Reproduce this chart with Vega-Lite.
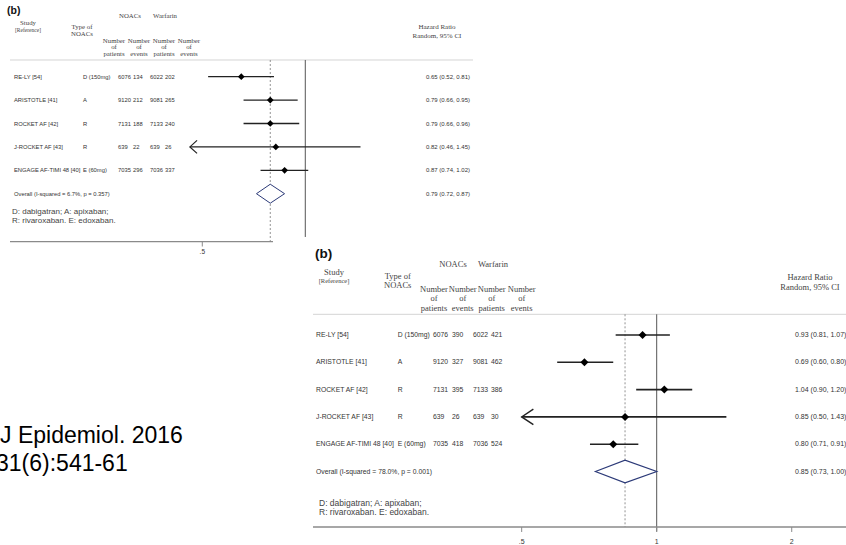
{
  "$schema": "https://vega.github.io/schema/vega-lite/v6.json",
  "width": 846,
  "height": 545,
  "autosize": "none",
  "padding": 0,
  "background": "white",
  "config": {"view": {"stroke": null}},
  "datasets": {
    "p1": [
      {"study": "RE-LY [54]", "type": "D (150mg)", "np": 6076, "ne": 134, "wp": 6022, "we": 202, "hr": 0.65, "lo": 0.52, "hi": 0.81, "ci": "0.65 (0.52, 0.81)", "order": 1, "kind": "study", "truncated": false},
      {"study": "ARISTOTLE [41]", "type": "A", "np": 9120, "ne": 212, "wp": 9081, "we": 265, "hr": 0.79, "lo": 0.66, "hi": 0.95, "ci": "0.79 (0.66, 0.95)", "order": 2, "kind": "study", "truncated": false},
      {"study": "ROCKET AF [42]", "type": "R", "np": 7131, "ne": 188, "wp": 7133, "we": 240, "hr": 0.79, "lo": 0.66, "hi": 0.96, "ci": "0.79 (0.66, 0.96)", "order": 3, "kind": "study", "truncated": false},
      {"study": "J-ROCKET AF [43]", "type": "R", "np": 639, "ne": 22, "wp": 639, "we": 26, "hr": 0.82, "lo": 0.46, "hi": 1.45, "ci": "0.82 (0.46, 1.45)", "order": 4, "kind": "study", "truncated": true},
      {"study": "ENGAGE AF-TIMI 48 [40]", "type": "E (60mg)", "np": 7035, "ne": 296, "wp": 7036, "we": 337, "hr": 0.87, "lo": 0.74, "hi": 1.02, "ci": "0.87 (0.74, 1.02)", "order": 5, "kind": "study", "truncated": false},
      {"study": "Overall  (I-squared = 6.7%, p = 0.357)", "hr": 0.79, "lo": 0.72, "hi": 0.87, "ci": "0.79 (0.72, 0.87)", "order": 6, "kind": "overall", "truncated": false}
    ],
    "p2": [
      {"study": "RE-LY [54]", "type": "D (150mg)", "np": 6076, "ne": 390, "wp": 6022, "we": 421, "hr": 0.93, "lo": 0.81, "hi": 1.07, "ci": "0.93 (0.81, 1.07)", "order": 1, "kind": "study", "truncated": false},
      {"study": "ARISTOTLE [41]", "type": "A", "np": 9120, "ne": 327, "wp": 9081, "we": 462, "hr": 0.69, "lo": 0.60, "hi": 0.80, "ci": "0.69 (0.60, 0.80)", "order": 2, "kind": "study", "truncated": false},
      {"study": "ROCKET AF [42]", "type": "R", "np": 7131, "ne": 395, "wp": 7133, "we": 386, "hr": 1.04, "lo": 0.90, "hi": 1.20, "ci": "1.04 (0.90, 1.20)", "order": 3, "kind": "study", "truncated": false},
      {"study": "J-ROCKET AF [43]", "type": "R", "np": 639, "ne": 26, "wp": 639, "we": 30, "hr": 0.85, "lo": 0.50, "hi": 1.43, "ci": "0.85 (0.50, 1.43)", "order": 4, "kind": "study", "truncated": true},
      {"study": "ENGAGE AF-TIMI 48 [40]", "type": "E (60mg)", "np": 7035, "ne": 418, "wp": 7036, "we": 524, "hr": 0.80, "lo": 0.71, "hi": 0.91, "ci": "0.80 (0.71, 0.91)", "order": 5, "kind": "study", "truncated": false},
      {"study": "Overall  (I-squared = 78.0%, p = 0.001)", "hr": 0.85, "lo": 0.73, "hi": 1.00, "ci": "0.85 (0.73, 1.00)", "order": 6, "kind": "overall", "truncated": false}
    ],
    "ticks2": [{"v": 0.5, "lab": ".5"}, {"v": 1, "lab": "1"}, {"v": 2, "lab": "2"}]
  },
  "layer": [
    {
      "layer": [
        {"data": {"values": [{}]}, "mark": {"type": "rule", "color": "#d4d4d4", "strokeWidth": 1},
         "encoding": {"x": {"datum": 0.13708, "type": "quantitative", "scale": {"type": "log", "domain": [0.12816, 38.04], "nice": false}, "axis": null}, "x2": {"datum": 3.0911},
                      "y": {"datum": 0.2863, "type": "quantitative", "scale": {"domain": [-2.2778, 21.0128], "reverse": true, "nice": false, "zero": false}, "axis": null}}},
        {"data": {"values": [{}]}, "mark": {"type": "rule", "color": "#555", "strokeWidth": 1},
         "encoding": {"x": {"datum": 1, "type": "quantitative", "scale": {"type": "log", "domain": [0.12816, 38.04], "nice": false}, "axis": null},
                      "y": {"datum": 0.2863, "type": "quantitative", "scale": {"domain": [-2.2778, 21.0128], "reverse": true, "nice": false, "zero": false}, "axis": null}, "y2": {"datum": 7.8504}}},
        {"data": {"name": "p1"}, "transform": [{"filter": {"field": "kind", "equal": "overall"}}], "mark": {"type": "rule", "color": "#777", "strokeWidth": 0.8, "strokeDash": [2, 2]},
         "encoding": {"x": {"field": "hr", "type": "quantitative", "scale": {"type": "log", "domain": [0.12816, 38.04], "nice": false}, "axis": null},
                      "y": {"datum": 0.2863, "type": "quantitative", "scale": {"domain": [-2.2778, 21.0128], "reverse": true, "nice": false, "zero": false}, "axis": null}, "y2": {"datum": 8.0641}}},
        {"data": {"values": [{}]}, "mark": {"type": "rule", "color": "#8a8a8a", "strokeWidth": 1.2},
         "encoding": {"x": {"datum": 0.13708, "type": "quantitative", "scale": {"type": "log", "domain": [0.12816, 38.04], "nice": false}, "axis": null}, "x2": {"datum": 0.80466},
                      "y": {"datum": 8.0513, "type": "quantitative", "scale": {"domain": [-2.2778, 21.0128], "reverse": true, "nice": false, "zero": false}, "axis": null}}},
        {"data": {"values": [{}]}, "mark": {"type": "rule", "color": "#8a8a8a", "strokeWidth": 1},
         "encoding": {"x": {"datum": 0.5, "type": "quantitative", "scale": {"type": "log", "domain": [0.12816, 38.04], "nice": false}, "axis": null},
                      "y": {"datum": 8.0513, "type": "quantitative", "scale": {"domain": [-2.2778, 21.0128], "reverse": true, "nice": false, "zero": false}, "axis": null}, "y2": {"datum": 8.2564}}},
        {"data": {"values": [{}]}, "mark": {"type": "text", "font": "Liberation Sans", "fontSize": 6.5, "color": "#333", "align": "center", "baseline": "middle"},
         "encoding": {"x": {"datum": 0.5, "type": "quantitative", "scale": {"type": "log", "domain": [0.12816, 38.04], "nice": false}, "axis": null},
                      "y": {"datum": 8.4701, "type": "quantitative", "scale": {"domain": [-2.2778, 21.0128], "reverse": true, "nice": false, "zero": false}, "axis": null}, "text": {"value": ".5"}}},
        {"data": {"name": "p1"}, "transform": [{"filter": {"field": "kind", "equal": "study"}}], "mark": {"type": "rule", "color": "#222", "strokeWidth": 1.3},
         "encoding": {"x": {"field": "lo", "type": "quantitative", "scale": {"type": "log", "domain": [0.12816, 38.04], "nice": false}, "axis": null}, "x2": {"field": "hi"},
                      "y": {"field": "order", "type": "quantitative", "scale": {"domain": [-2.2778, 21.0128], "reverse": true, "nice": false, "zero": false}, "axis": null}}},
        {"data": {"name": "p1"}, "transform": [{"filter": {"field": "kind", "equal": "study"}}], "mark": {"type": "point", "shape": "diamond", "filled": true, "color": "#000", "opacity": 1, "size": 45},
         "encoding": {"x": {"field": "hr", "type": "quantitative", "scale": {"type": "log", "domain": [0.12816, 38.04], "nice": false}, "axis": null},
                      "y": {"field": "order", "type": "quantitative", "scale": {"domain": [-2.2778, 21.0128], "reverse": true, "nice": false, "zero": false}, "axis": null}}},
        {"data": {"name": "p1"}, "transform": [{"filter": {"field": "truncated", "equal": true}}], "mark": {"type": "point", "shape": "M1.1,-1L0,0L1.1,1", "filled": false, "color": "#222", "strokeWidth": 1.2, "opacity": 1, "size": 169},
         "encoding": {"x": {"field": "lo", "type": "quantitative", "scale": {"type": "log", "domain": [0.12816, 38.04], "nice": false}, "axis": null},
                      "y": {"field": "order", "type": "quantitative", "scale": {"domain": [-2.2778, 21.0128], "reverse": true, "nice": false, "zero": false}, "axis": null}}},
        {"data": {"name": "p1"}, "transform": [{"filter": {"field": "kind", "equal": "overall"}}], "mark": {"type": "point", "shape": "M-0.965,0L0,-0.664L1,0L0,0.664Z", "filled": true, "fill": "white", "stroke": "#2c3a78", "strokeWidth": 1, "opacity": 1, "size": 818},
         "encoding": {"x": {"field": "hr", "type": "quantitative", "scale": {"type": "log", "domain": [0.12816, 38.04], "nice": false}, "axis": null},
                      "y": {"field": "order", "type": "quantitative", "scale": {"domain": [-2.2778, 21.0128], "reverse": true, "nice": false, "zero": false}, "axis": null}}},
        {"data": {"name": "p1"}, "mark": {"type": "text", "font": "Liberation Sans", "fontSize": 5.8, "color": "#333", "align": "left", "baseline": "middle"},
         "encoding": {"x": {"datum": 0.14082, "type": "quantitative", "scale": {"type": "log", "domain": [0.12816, 38.04], "nice": false}, "axis": null},
                      "y": {"field": "order", "type": "quantitative", "scale": {"domain": [-2.2778, 21.0128], "reverse": true, "nice": false, "zero": false}, "axis": null}, "text": {"field": "study"}}},
        {"data": {"name": "p1"}, "transform": [{"filter": {"field": "kind", "equal": "study"}}], "mark": {"type": "text", "font": "Liberation Sans", "fontSize": 5.8, "color": "#333", "align": "left", "baseline": "middle"},
         "encoding": {"x": {"datum": 0.22403, "type": "quantitative", "scale": {"type": "log", "domain": [0.12816, 38.04], "nice": false}, "axis": null},
                      "y": {"field": "order", "type": "quantitative", "scale": {"domain": [-2.2778, 21.0128], "reverse": true, "nice": false, "zero": false}, "axis": null}, "text": {"field": "type"}}},
        {"data": {"name": "p1"}, "transform": [{"filter": {"field": "kind", "equal": "study"}}], "mark": {"type": "text", "font": "Liberation Sans", "fontSize": 5.8, "color": "#333", "align": "left", "baseline": "middle"},
         "encoding": {"x": {"datum": 0.28353, "type": "quantitative", "scale": {"type": "log", "domain": [0.12816, 38.04], "nice": false}, "axis": null},
                      "y": {"field": "order", "type": "quantitative", "scale": {"domain": [-2.2778, 21.0128], "reverse": true, "nice": false, "zero": false}, "axis": null}, "text": {"field": "np", "type": "quantitative", "format": "d"}}},
        {"data": {"name": "p1"}, "transform": [{"filter": {"field": "kind", "equal": "study"}}], "mark": {"type": "text", "font": "Liberation Sans", "fontSize": 5.8, "color": "#333", "align": "left", "baseline": "middle"},
         "encoding": {"x": {"datum": 0.31365, "type": "quantitative", "scale": {"type": "log", "domain": [0.12816, 38.04], "nice": false}, "axis": null},
                      "y": {"field": "order", "type": "quantitative", "scale": {"domain": [-2.2778, 21.0128], "reverse": true, "nice": false, "zero": false}, "axis": null}, "text": {"field": "ne", "type": "quantitative", "format": "d"}}},
        {"data": {"name": "p1"}, "transform": [{"filter": {"field": "kind", "equal": "study"}}], "mark": {"type": "text", "font": "Liberation Sans", "fontSize": 5.8, "color": "#333", "align": "left", "baseline": "middle"},
         "encoding": {"x": {"datum": 0.35166, "type": "quantitative", "scale": {"type": "log", "domain": [0.12816, 38.04], "nice": false}, "axis": null},
                      "y": {"field": "order", "type": "quantitative", "scale": {"domain": [-2.2778, 21.0128], "reverse": true, "nice": false, "zero": false}, "axis": null}, "text": {"field": "wp", "type": "quantitative", "format": "d"}}},
        {"data": {"name": "p1"}, "transform": [{"filter": {"field": "kind", "equal": "study"}}], "mark": {"type": "text", "font": "Liberation Sans", "fontSize": 5.8, "color": "#333", "align": "left", "baseline": "middle"},
         "encoding": {"x": {"datum": 0.38901, "type": "quantitative", "scale": {"type": "log", "domain": [0.12816, 38.04], "nice": false}, "axis": null},
                      "y": {"field": "order", "type": "quantitative", "scale": {"domain": [-2.2778, 21.0128], "reverse": true, "nice": false, "zero": false}, "axis": null}, "text": {"field": "we", "type": "quantitative", "format": "d"}}},
        {"data": {"name": "p1"}, "mark": {"type": "text", "font": "Liberation Sans", "fontSize": 6, "color": "#333", "align": "left", "baseline": "middle"},
         "encoding": {"x": {"datum": 2.253, "type": "quantitative", "scale": {"type": "log", "domain": [0.12816, 38.04], "nice": false}, "axis": null},
                      "y": {"field": "order", "type": "quantitative", "scale": {"domain": [-2.2778, 21.0128], "reverse": true, "nice": false, "zero": false}, "axis": null}, "text": {"field": "ci"}}},
        {"data": {"values": [{}]}, "mark": {"type": "text", "font": "Liberation Sans", "fontWeight": "bold", "fontSize": 10.5, "color": "#111", "align": "left", "baseline": "middle"},
         "encoding": {"x": {"datum": 0.13434, "type": "quantitative", "scale": {"type": "log", "domain": [0.12816, 38.04], "nice": false}, "axis": null},
                      "y": {"datum": -1.8077, "type": "quantitative", "scale": {"domain": [-2.2778, 21.0128], "reverse": true, "nice": false, "zero": false}, "axis": null}, "text": {"value": "(b)"}}},
        {"data": {"values": [{}]}, "mark": {"type": "text", "font": "Liberation Serif", "fontSize": 6.8, "color": "#444", "align": "center", "baseline": "middle"},
         "encoding": {"x": {"datum": 0.30738, "type": "quantitative", "scale": {"type": "log", "domain": [0.12816, 38.04], "nice": false}, "axis": null},
                      "y": {"datum": -1.594, "type": "quantitative", "scale": {"domain": [-2.2778, 21.0128], "reverse": true, "nice": false, "zero": false}, "axis": null}, "text": {"value": "NOACs"}}},
        {"data": {"values": [{}]}, "mark": {"type": "text", "font": "Liberation Serif", "fontSize": 6.8, "color": "#444", "align": "center", "baseline": "middle"},
         "encoding": {"x": {"datum": 0.38901, "type": "quantitative", "scale": {"type": "log", "domain": [0.12816, 38.04], "nice": false}, "axis": null},
                      "y": {"datum": -1.594, "type": "quantitative", "scale": {"domain": [-2.2778, 21.0128], "reverse": true, "nice": false, "zero": false}, "axis": null}, "text": {"value": "Warfarin"}}},
        {"data": {"values": [{}]}, "mark": {"type": "text", "font": "Liberation Serif", "fontSize": 6.8, "color": "#444", "align": "center", "baseline": "middle"},
         "encoding": {"x": {"datum": 0.15473, "type": "quantitative", "scale": {"type": "log", "domain": [0.12816, 38.04], "nice": false}, "axis": null},
                      "y": {"datum": -1.2949, "type": "quantitative", "scale": {"domain": [-2.2778, 21.0128], "reverse": true, "nice": false, "zero": false}, "axis": null}, "text": {"value": "Study"}}},
        {"data": {"values": [{}]}, "mark": {"type": "text", "font": "Liberation Serif", "fontSize": 5.5, "color": "#444", "align": "center", "baseline": "middle"},
         "encoding": {"x": {"datum": 0.15473, "type": "quantitative", "scale": {"type": "log", "domain": [0.12816, 38.04], "nice": false}, "axis": null},
                      "y": {"datum": -0.9957, "type": "quantitative", "scale": {"domain": [-2.2778, 21.0128], "reverse": true, "nice": false, "zero": false}, "axis": null}, "text": {"value": "[Reference]"}}},
        {"data": {"values": [{}]}, "mark": {"type": "text", "font": "Liberation Serif", "fontSize": 6.8, "lineHeight": 7, "color": "#444", "align": "center", "baseline": "middle"},
         "encoding": {"x": {"datum": 0.22253, "type": "quantitative", "scale": {"type": "log", "domain": [0.12816, 38.04], "nice": false}, "axis": null},
                      "y": {"datum": -1.1026, "type": "quantitative", "scale": {"domain": [-2.2778, 21.0128], "reverse": true, "nice": false, "zero": false}, "axis": null}, "text": {"value": ["Type of", "NOACs"]}}},
        {"data": {"values": [{}]}, "mark": {"type": "text", "font": "Liberation Serif", "fontSize": 6.8, "lineHeight": 6.6, "color": "#444", "align": "center", "baseline": "middle"},
         "encoding": {"x": {"datum": 0.276, "type": "quantitative", "scale": {"type": "log", "domain": [0.12816, 38.04], "nice": false}, "axis": null},
                      "y": {"datum": -0.547, "type": "quantitative", "scale": {"domain": [-2.2778, 21.0128], "reverse": true, "nice": false, "zero": false}, "axis": null}, "text": {"value": ["Number", "of", "patients"]}}},
        {"data": {"values": [{}]}, "mark": {"type": "text", "font": "Liberation Serif", "fontSize": 6.8, "lineHeight": 6.6, "color": "#444", "align": "center", "baseline": "middle"},
         "encoding": {"x": {"datum": 0.32657, "type": "quantitative", "scale": {"type": "log", "domain": [0.12816, 38.04], "nice": false}, "axis": null},
                      "y": {"datum": -0.547, "type": "quantitative", "scale": {"domain": [-2.2778, 21.0128], "reverse": true, "nice": false, "zero": false}, "axis": null}, "text": {"value": ["Number", "of", "events"]}}},
        {"data": {"values": [{}]}, "mark": {"type": "text", "font": "Liberation Serif", "fontSize": 6.8, "lineHeight": 6.6, "color": "#444", "align": "center", "baseline": "middle"},
         "encoding": {"x": {"datum": 0.3864, "type": "quantitative", "scale": {"type": "log", "domain": [0.12816, 38.04], "nice": false}, "axis": null},
                      "y": {"datum": -0.547, "type": "quantitative", "scale": {"domain": [-2.2778, 21.0128], "reverse": true, "nice": false, "zero": false}, "axis": null}, "text": {"value": ["Number", "of", "patients"]}}},
        {"data": {"values": [{}]}, "mark": {"type": "text", "font": "Liberation Serif", "fontSize": 6.8, "lineHeight": 6.6, "color": "#444", "align": "center", "baseline": "middle"},
         "encoding": {"x": {"datum": 0.4572, "type": "quantitative", "scale": {"type": "log", "domain": [0.12816, 38.04], "nice": false}, "axis": null},
                      "y": {"datum": -0.547, "type": "quantitative", "scale": {"domain": [-2.2778, 21.0128], "reverse": true, "nice": false, "zero": false}, "axis": null}, "text": {"value": ["Number", "of", "events"]}}},
        {"data": {"values": [{}]}, "mark": {"type": "text", "font": "Liberation Serif", "fontSize": 7, "lineHeight": 9, "color": "#444", "align": "center", "baseline": "middle"},
         "encoding": {"x": {"datum": 2.42607, "type": "quantitative", "scale": {"type": "log", "domain": [0.12816, 38.04], "nice": false}, "axis": null},
                      "y": {"datum": -1.1026, "type": "quantitative", "scale": {"domain": [-2.2778, 21.0128], "reverse": true, "nice": false, "zero": false}, "axis": null}, "text": {"value": ["Hazard Ratio", "Random, 95% CI"]}}},
        {"data": {"values": [{}]}, "mark": {"type": "text", "font": "Liberation Sans", "fontSize": 8, "lineHeight": 9.4, "color": "#444", "align": "left", "baseline": "middle"},
         "encoding": {"x": {"datum": 0.13893, "type": "quantitative", "scale": {"type": "log", "domain": [0.12816, 38.04], "nice": false}, "axis": null},
                      "y": {"datum": 6.7821, "type": "quantitative", "scale": {"domain": [-2.2778, 21.0128], "reverse": true, "nice": false, "zero": false}, "axis": null}, "text": {"value": ["D: dabigatran; A: apixaban;", "R: rivaroxaban. E: edoxaban."]}}}
      ]
    },
    {
      "layer": [
        {"data": {"values": [{}]}, "mark": {"type": "rule", "color": "#d4d4d4", "strokeWidth": 1},
         "encoding": {"x": {"datum": 0.17129, "type": "quantitative", "scale": {"type": "log", "domain": [0.03435, 2.64261], "nice": false}, "axis": null}, "x2": {"datum": 2.64261},
                      "y": {"datum": 0.2418, "type": "quantitative", "scale": {"domain": [-11.2711, 8.6923], "reverse": true, "nice": false, "zero": false}, "axis": null}}},
        {"data": {"values": [{}]}, "mark": {"type": "rule", "color": "#555", "strokeWidth": 1},
         "encoding": {"x": {"datum": 1, "type": "quantitative", "scale": {"type": "log", "domain": [0.03435, 2.64261], "nice": false}, "axis": null},
                      "y": {"datum": 0.2418, "type": "quantitative", "scale": {"domain": [-11.2711, 8.6923], "reverse": true, "nice": false, "zero": false}, "axis": null}, "y2": {"datum": 8.1978}}},
        {"data": {"name": "p2"}, "transform": [{"filter": {"field": "kind", "equal": "overall"}}], "mark": {"type": "rule", "color": "#777", "strokeWidth": 0.8, "strokeDash": [2, 2]},
         "encoding": {"x": {"field": "hr", "type": "quantitative", "scale": {"type": "log", "domain": [0.03435, 2.64261], "nice": false}, "axis": null},
                      "y": {"datum": 0.2418, "type": "quantitative", "scale": {"domain": [-11.2711, 8.6923], "reverse": true, "nice": false, "zero": false}, "axis": null}, "y2": {"datum": 8.033}}},
        {"data": {"values": [{}]}, "mark": {"type": "rule", "color": "#8a8a8a", "strokeWidth": 1.3},
         "encoding": {"x": {"datum": 0.17129, "type": "quantitative", "scale": {"type": "log", "domain": [0.03435, 2.64261], "nice": false}, "axis": null}, "x2": {"datum": 2.64261},
                      "y": {"datum": 8.033, "type": "quantitative", "scale": {"domain": [-11.2711, 8.6923], "reverse": true, "nice": false, "zero": false}, "axis": null}}},
        {"data": {"name": "ticks2"}, "mark": {"type": "rule", "color": "#8a8a8a", "strokeWidth": 1},
         "encoding": {"x": {"field": "v", "type": "quantitative", "scale": {"type": "log", "domain": [0.03435, 2.64261], "nice": false}, "axis": null},
                      "y": {"datum": 8.033, "type": "quantitative", "scale": {"domain": [-11.2711, 8.6923], "reverse": true, "nice": false, "zero": false}, "axis": null}, "y2": {"datum": 8.2161}}},
        {"data": {"name": "ticks2"}, "mark": {"type": "text", "font": "Liberation Sans", "fontSize": 7, "color": "#333", "align": "center", "baseline": "middle"},
         "encoding": {"x": {"field": "v", "type": "quantitative", "scale": {"type": "log", "domain": [0.03435, 2.64261], "nice": false}, "axis": null},
                      "y": {"datum": 8.5641, "type": "quantitative", "scale": {"domain": [-11.2711, 8.6923], "reverse": true, "nice": false, "zero": false}, "axis": null}, "text": {"field": "lab"}}},
        {"data": {"name": "p2"}, "transform": [{"filter": {"field": "kind", "equal": "study"}}], "mark": {"type": "rule", "color": "#222", "strokeWidth": 1.6},
         "encoding": {"x": {"field": "lo", "type": "quantitative", "scale": {"type": "log", "domain": [0.03435, 2.64261], "nice": false}, "axis": null}, "x2": {"field": "hi"},
                      "y": {"field": "order", "type": "quantitative", "scale": {"domain": [-11.2711, 8.6923], "reverse": true, "nice": false, "zero": false}, "axis": null}}},
        {"data": {"name": "p2"}, "transform": [{"filter": {"field": "kind", "equal": "study"}}], "mark": {"type": "point", "shape": "diamond", "filled": true, "color": "#000", "opacity": 1, "size": 64},
         "encoding": {"x": {"field": "hr", "type": "quantitative", "scale": {"type": "log", "domain": [0.03435, 2.64261], "nice": false}, "axis": null},
                      "y": {"field": "order", "type": "quantitative", "scale": {"domain": [-11.2711, 8.6923], "reverse": true, "nice": false, "zero": false}, "axis": null}}},
        {"data": {"name": "p2"}, "transform": [{"filter": {"field": "truncated", "equal": true}}], "mark": {"type": "point", "shape": "M1.5,-1L0,0L1.5,1", "filled": false, "color": "#222", "strokeWidth": 1.4, "opacity": 1, "size": 243},
         "encoding": {"x": {"field": "lo", "type": "quantitative", "scale": {"type": "log", "domain": [0.03435, 2.64261], "nice": false}, "axis": null},
                      "y": {"field": "order", "type": "quantitative", "scale": {"domain": [-11.2711, 8.6923], "reverse": true, "nice": false, "zero": false}, "axis": null}}},
        {"data": {"name": "p2"}, "transform": [{"filter": {"field": "kind", "equal": "overall"}}], "mark": {"type": "point", "shape": "M-0.934,0L0,-0.356L1,0L0,0.356Z", "filled": true, "fill": "white", "stroke": "#2c3a78", "strokeWidth": 1.2, "opacity": 1, "size": 4020},
         "encoding": {"x": {"field": "hr", "type": "quantitative", "scale": {"type": "log", "domain": [0.03435, 2.64261], "nice": false}, "axis": null},
                      "y": {"field": "order", "type": "quantitative", "scale": {"domain": [-11.2711, 8.6923], "reverse": true, "nice": false, "zero": false}, "axis": null}}},
        {"data": {"name": "p2"}, "mark": {"type": "text", "font": "Liberation Sans", "fontSize": 6.8, "color": "#333", "align": "left", "baseline": "middle"},
         "encoding": {"x": {"datum": 0.17395, "type": "quantitative", "scale": {"type": "log", "domain": [0.03435, 2.64261], "nice": false}, "axis": null},
                      "y": {"field": "order", "type": "quantitative", "scale": {"domain": [-11.2711, 8.6923], "reverse": true, "nice": false, "zero": false}, "axis": null}, "text": {"field": "study"}}},
        {"data": {"name": "p2"}, "transform": [{"filter": {"field": "kind", "equal": "study"}}], "mark": {"type": "text", "font": "Liberation Sans", "fontSize": 6.8, "color": "#333", "align": "left", "baseline": "middle"},
         "encoding": {"x": {"datum": 0.26459, "type": "quantitative", "scale": {"type": "log", "domain": [0.03435, 2.64261], "nice": false}, "axis": null},
                      "y": {"field": "order", "type": "quantitative", "scale": {"domain": [-11.2711, 8.6923], "reverse": true, "nice": false, "zero": false}, "axis": null}, "text": {"field": "type"}}},
        {"data": {"name": "p2"}, "transform": [{"filter": {"field": "kind", "equal": "study"}}], "mark": {"type": "text", "font": "Liberation Sans", "fontSize": 6.8, "color": "#333", "align": "left", "baseline": "middle"},
         "encoding": {"x": {"datum": 0.31716, "type": "quantitative", "scale": {"type": "log", "domain": [0.03435, 2.64261], "nice": false}, "axis": null},
                      "y": {"field": "order", "type": "quantitative", "scale": {"domain": [-11.2711, 8.6923], "reverse": true, "nice": false, "zero": false}, "axis": null}, "text": {"field": "np", "type": "quantitative", "format": "d"}}},
        {"data": {"name": "p2"}, "transform": [{"filter": {"field": "kind", "equal": "study"}}], "mark": {"type": "text", "font": "Liberation Sans", "fontSize": 6.8, "color": "#333", "align": "left", "baseline": "middle"},
         "encoding": {"x": {"datum": 0.34965, "type": "quantitative", "scale": {"type": "log", "domain": [0.03435, 2.64261], "nice": false}, "axis": null},
                      "y": {"field": "order", "type": "quantitative", "scale": {"domain": [-11.2711, 8.6923], "reverse": true, "nice": false, "zero": false}, "axis": null}, "text": {"field": "ne", "type": "quantitative", "format": "d"}}},
        {"data": {"name": "p2"}, "transform": [{"filter": {"field": "kind", "equal": "study"}}], "mark": {"type": "text", "font": "Liberation Sans", "fontSize": 6.8, "color": "#333", "align": "left", "baseline": "middle"},
         "encoding": {"x": {"datum": 0.38945, "type": "quantitative", "scale": {"type": "log", "domain": [0.03435, 2.64261], "nice": false}, "axis": null},
                      "y": {"field": "order", "type": "quantitative", "scale": {"domain": [-11.2711, 8.6923], "reverse": true, "nice": false, "zero": false}, "axis": null}, "text": {"field": "wp", "type": "quantitative", "format": "d"}}},
        {"data": {"name": "p2"}, "transform": [{"filter": {"field": "kind", "equal": "study"}}], "mark": {"type": "text", "font": "Liberation Sans", "fontSize": 6.8, "color": "#333", "align": "left", "baseline": "middle"},
         "encoding": {"x": {"datum": 0.42715, "type": "quantitative", "scale": {"type": "log", "domain": [0.03435, 2.64261], "nice": false}, "axis": null},
                      "y": {"field": "order", "type": "quantitative", "scale": {"domain": [-11.2711, 8.6923], "reverse": true, "nice": false, "zero": false}, "axis": null}, "text": {"field": "we", "type": "quantitative", "format": "d"}}},
        {"data": {"name": "p2"}, "mark": {"type": "text", "font": "Liberation Sans", "fontSize": 7, "color": "#333", "align": "left", "baseline": "middle"},
         "encoding": {"x": {"datum": 2.03391, "type": "quantitative", "scale": {"type": "log", "domain": [0.03435, 2.64261], "nice": false}, "axis": null},
                      "y": {"field": "order", "type": "quantitative", "scale": {"domain": [-11.2711, 8.6923], "reverse": true, "nice": false, "zero": false}, "axis": null}, "text": {"field": "ci"}}},
        {"data": {"values": [{}]}, "mark": {"type": "text", "font": "Liberation Sans", "fontWeight": "bold", "fontSize": 13.5, "color": "#111", "align": "left", "baseline": "middle"},
         "encoding": {"x": {"datum": 0.17306, "type": "quantitative", "scale": {"type": "log", "domain": [0.03435, 2.64261], "nice": false}, "axis": null},
                      "y": {"datum": -1.967, "type": "quantitative", "scale": {"domain": [-11.2711, 8.6923], "reverse": true, "nice": false, "zero": false}, "axis": null}, "text": {"value": "(b)"}}},
        {"data": {"values": [{}]}, "mark": {"type": "text", "font": "Liberation Serif", "fontSize": 8.5, "color": "#444", "align": "center", "baseline": "middle"},
         "encoding": {"x": {"datum": 0.35145, "type": "quantitative", "scale": {"type": "log", "domain": [0.03435, 2.64261], "nice": false}, "axis": null},
                      "y": {"datum": -1.6007, "type": "quantitative", "scale": {"domain": [-11.2711, 8.6923], "reverse": true, "nice": false, "zero": false}, "axis": null}, "text": {"value": "NOACs"}}},
        {"data": {"values": [{}]}, "mark": {"type": "text", "font": "Liberation Serif", "fontSize": 8.5, "color": "#444", "align": "center", "baseline": "middle"},
         "encoding": {"x": {"datum": 0.43156, "type": "quantitative", "scale": {"type": "log", "domain": [0.03435, 2.64261], "nice": false}, "axis": null},
                      "y": {"datum": -1.6007, "type": "quantitative", "scale": {"domain": [-11.2711, 8.6923], "reverse": true, "nice": false, "zero": false}, "axis": null}, "text": {"value": "Warfarin"}}},
        {"data": {"values": [{}]}, "mark": {"type": "text", "font": "Liberation Serif", "fontSize": 8.5, "color": "#444", "align": "center", "baseline": "middle"},
         "encoding": {"x": {"datum": 0.19079, "type": "quantitative", "scale": {"type": "log", "domain": [0.03435, 2.64261], "nice": false}, "axis": null},
                      "y": {"datum": -1.2967, "type": "quantitative", "scale": {"domain": [-11.2711, 8.6923], "reverse": true, "nice": false, "zero": false}, "axis": null}, "text": {"value": "Study"}}},
        {"data": {"values": [{}]}, "mark": {"type": "text", "font": "Liberation Serif", "fontSize": 6.5, "color": "#444", "align": "center", "baseline": "middle"},
         "encoding": {"x": {"datum": 0.19079, "type": "quantitative", "scale": {"type": "log", "domain": [0.03435, 2.64261], "nice": false}, "axis": null},
                      "y": {"datum": -0.9963, "type": "quantitative", "scale": {"domain": [-11.2711, 8.6923], "reverse": true, "nice": false, "zero": false}, "axis": null}, "text": {"value": "[Reference]"}}},
        {"data": {"values": [{}]}, "mark": {"type": "text", "font": "Liberation Serif", "fontSize": 8.5, "lineHeight": 8.8, "color": "#444", "align": "center", "baseline": "middle"},
         "encoding": {"x": {"datum": 0.26459, "type": "quantitative", "scale": {"type": "log", "domain": [0.03435, 2.64261], "nice": false}, "axis": null},
                      "y": {"datum": -1.1429, "type": "quantitative", "scale": {"domain": [-11.2711, 8.6923], "reverse": true, "nice": false, "zero": false}, "axis": null}, "text": {"value": ["Type of", "NOACs"]}}},
        {"data": {"values": [{}]}, "mark": {"type": "text", "font": "Liberation Serif", "fontSize": 8.5, "lineHeight": 9.6, "color": "#444", "align": "center", "baseline": "middle"},
         "encoding": {"x": {"datum": 0.31879, "type": "quantitative", "scale": {"type": "log", "domain": [0.03435, 2.64261], "nice": false}, "axis": null},
                      "y": {"datum": -0.7033, "type": "quantitative", "scale": {"domain": [-11.2711, 8.6923], "reverse": true, "nice": false, "zero": false}, "axis": null}, "text": {"value": ["Number", "of", "patients"]}}},
        {"data": {"values": [{}]}, "mark": {"type": "text", "font": "Liberation Serif", "fontSize": 8.5, "lineHeight": 9.6, "color": "#444", "align": "center", "baseline": "middle"},
         "encoding": {"x": {"datum": 0.36939, "type": "quantitative", "scale": {"type": "log", "domain": [0.03435, 2.64261], "nice": false}, "axis": null},
                      "y": {"datum": -0.7033, "type": "quantitative", "scale": {"domain": [-11.2711, 8.6923], "reverse": true, "nice": false, "zero": false}, "axis": null}, "text": {"value": ["Number", "of", "events"]}}},
        {"data": {"values": [{}]}, "mark": {"type": "text", "font": "Liberation Serif", "fontSize": 8.5, "lineHeight": 9.6, "color": "#444", "align": "center", "baseline": "middle"},
         "encoding": {"x": {"datum": 0.42869, "type": "quantitative", "scale": {"type": "log", "domain": [0.03435, 2.64261], "nice": false}, "axis": null},
                      "y": {"datum": -0.7033, "type": "quantitative", "scale": {"domain": [-11.2711, 8.6923], "reverse": true, "nice": false, "zero": false}, "axis": null}, "text": {"value": ["Number", "of", "patients"]}}},
        {"data": {"values": [{}]}, "mark": {"type": "text", "font": "Liberation Serif", "fontSize": 8.5, "lineHeight": 9.6, "color": "#444", "align": "center", "baseline": "middle"},
         "encoding": {"x": {"datum": 0.5, "type": "quantitative", "scale": {"type": "log", "domain": [0.03435, 2.64261], "nice": false}, "axis": null},
                      "y": {"datum": -0.7033, "type": "quantitative", "scale": {"domain": [-11.2711, 8.6923], "reverse": true, "nice": false, "zero": false}, "axis": null}, "text": {"value": ["Number", "of", "events"]}}},
        {"data": {"values": [{}]}, "mark": {"type": "text", "font": "Liberation Serif", "fontSize": 8.5, "lineHeight": 10, "color": "#444", "align": "center", "baseline": "middle"},
         "encoding": {"x": {"datum": 2.1967, "type": "quantitative", "scale": {"type": "log", "domain": [0.03435, 2.64261], "nice": false}, "axis": null},
                      "y": {"datum": -1.1355, "type": "quantitative", "scale": {"domain": [-11.2711, 8.6923], "reverse": true, "nice": false, "zero": false}, "axis": null}, "text": {"value": ["Hazard Ratio", "Random, 95% CI"]}}},
        {"data": {"values": [{}]}, "mark": {"type": "text", "font": "Liberation Sans", "fontSize": 8.5, "lineHeight": 9.5, "color": "#444", "align": "left", "baseline": "middle"},
         "encoding": {"x": {"datum": 0.17665, "type": "quantitative", "scale": {"type": "log", "domain": [0.03435, 2.64261], "nice": false}, "axis": null},
                      "y": {"datum": 7.1538, "type": "quantitative", "scale": {"domain": [-11.2711, 8.6923], "reverse": true, "nice": false, "zero": false}, "axis": null}, "text": {"value": ["D: dabigatran; A: apixaban;", "R: rivaroxaban. E: edoxaban."]}}},
        {"data": {"values": [{}]}, "mark": {"type": "text", "font": "Liberation Sans", "fontSize": 23, "color": "#000", "align": "left", "baseline": "middle"},
         "encoding": {"x": {"datum": 0.03435, "type": "quantitative", "scale": {"type": "log", "domain": [0.03435, 2.64261], "nice": false}, "axis": null},
                      "y": {"datum": 4.6996, "type": "quantitative", "scale": {"domain": [-11.2711, 8.6923], "reverse": true, "nice": false, "zero": false}, "axis": null}, "text": {"value": "J Epidemiol. 2016"}}},
        {"data": {"values": [{}]}, "mark": {"type": "text", "font": "Liberation Sans", "fontSize": 23, "color": "#000", "align": "left", "baseline": "middle"},
         "encoding": {"x": {"datum": 0.033652, "type": "quantitative", "scale": {"type": "log", "domain": [0.03435, 2.64261], "nice": false}, "axis": null},
                      "y": {"datum": 5.7253, "type": "quantitative", "scale": {"domain": [-11.2711, 8.6923], "reverse": true, "nice": false, "zero": false}, "axis": null}, "text": {"value": "31(6):541-61"}}}
      ]
    }
  ],
  "resolve": {"scale": {"x": "independent", "y": "independent"}}
}
